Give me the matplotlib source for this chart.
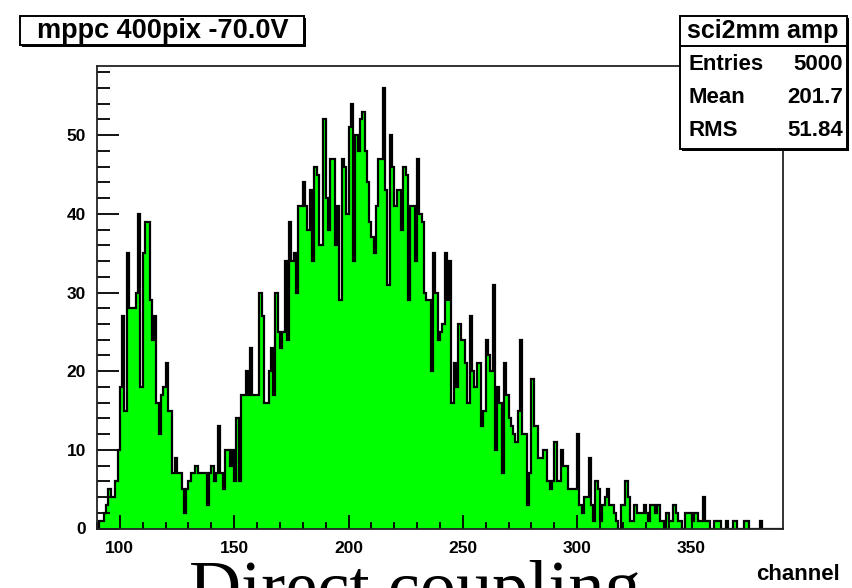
import numpy as np
import matplotlib
matplotlib.use("Agg")
import matplotlib.pyplot as plt
from matplotlib.patches import Rectangle

# amplitude spectrum, one channel per bin, channels 90..389
first_channel = 90
counts = [
    0, 1, 1, 2, 3, 5, 4, 4, 6, 10,            # 90-99
    18, 27, 15, 35, 28, 28, 28, 30, 40, 18,   # 100-109
    35, 39, 39, 29, 24, 27, 16, 12, 17, 18,   # 110-119
    21, 15, 15, 7, 9, 7, 7, 5, 2, 5,          # 120-129
    6, 7, 7, 8, 7, 7, 7, 7, 3, 7,             # 130-139
    8, 6, 7, 13, 7, 5, 10, 10, 8, 10,         # 140-149
    6, 14, 6, 17, 17, 20, 17, 23, 17, 17,     # 150-159
    17, 30, 27, 16, 16, 20, 23, 17, 30, 25,   # 160-169
    23, 25, 34, 24, 39, 34, 35, 30, 41, 41,   # 170-179
    44, 41, 38, 43, 34, 46, 45, 36, 36, 52,   # 180-189
    42, 38, 47, 47, 36, 41, 29, 47, 46, 40,   # 190-199
    51, 54, 34, 50, 48, 52, 53, 48, 44, 39,   # 200-209
    37, 35, 41, 47, 47, 56, 43, 31, 50, 46,   # 210-219
    41, 43, 43, 38, 46, 45, 29, 41, 41, 34,   # 220-229
    47, 40, 39, 30, 29, 29, 20, 35, 30, 24,   # 230-239
    25, 26, 35, 29, 34, 16, 21, 18, 26, 24,   # 240-249
    24, 21, 16, 27, 20, 18, 21, 21, 13, 15,   # 250-259
    24, 22, 20, 31, 10, 18, 16, 7, 21, 17,    # 260-269
    14, 13, 12, 11, 15, 24, 12, 12, 3, 7,     # 270-279
    19, 13, 13, 9, 9, 10, 10, 6, 5, 6,        # 280-289
    11, 6, 6, 10, 8, 8, 5, 5, 5, 5,           # 290-299
    12, 3, 2, 4, 4, 9, 3, 1, 6, 5,            # 300-309
    1, 3, 4, 5, 3, 3, 2, 1, 0, 3,             # 310-319
    3, 6, 4, 1, 1, 3, 2, 2, 2, 3,             # 320-329
    2, 1, 3, 3, 2, 3, 1, 1, 0, 2,             # 330-339
    1, 1, 3, 2, 1, 1, 0, 2, 2, 2,             # 340-349
    1, 2, 2, 1, 1, 4, 1, 1, 0, 0,             # 350-359
    1, 1, 1, 0, 0, 1, 0, 0, 1, 1,             # 360-369
    0, 0, 0, 1, 1, 0, 0, 0, 0, 0,             # 370-379
    1, 0, 0, 0, 0, 0, 0, 0, 0, 0,             # 380-389
]
counts = np.array(counts, dtype=float)
edges = np.arange(first_channel, first_channel + len(counts) + 1)

hist_title = "mppc 400pix -70.0V"
stats_name = "sci2mm amp"
stats_rows = [("Entries", "5000"), ("Mean", "201.7"), ("RMS", "51.84")]
x_label = "channel"
caption = "Direct coupling"

W, H = 852, 588
fig = plt.figure(figsize=(W / 100, H / 100), dpi=100)
fig.patch.set_facecolor("white")

bold = dict(family=["Liberation Sans", "DejaVu Sans"], weight="bold")

# frame in pixels: left 97, right 783, top 66, bottom 528.5
ax = fig.add_axes([97 / W, 1 - 528.5 / H, (783 - 97) / W, (528.5 - 66) / H])
ax.stairs(counts, edges, fill=True, color="#00ff00", lw=0)
ax.stairs(counts, edges, baseline=0, color="black", lw=1.6)
ax.set_xlim(edges[0], edges[-1])
ax.set_ylim(0, counts.max() * 1.05)

ax.set_xticks(np.arange(100, 351, 50))
ax.set_xticks(np.arange(90, 390, 10), minor=True)
ax.set_yticks(np.arange(0, 51, 10))
ax.set_yticks(np.arange(0, 59, 2), minor=True)
ax.tick_params(axis="both", which="both", direction="in", top=False, right=False, width=1.3)
ax.tick_params(axis="x", which="major", length=10, pad=9)
ax.tick_params(axis="x", which="minor", length=5)
ax.tick_params(axis="y", which="major", length=16, pad=8)
ax.tick_params(axis="y", which="minor", length=9)
for lab in ax.get_xticklabels() + ax.get_yticklabels():
    lab.set_fontfamily(bold["family"])
    lab.set_fontweight("bold")
    lab.set_fontsize(12.5)
for sp in ax.spines.values():
    sp.set_linewidth(1.3)
    sp.set_color("#222222")


def px_box(x0, y0, x1, y1, shadow=3):
    # box given in pixel coordinates from the top-left corner
    fx, fy = x0 / W, 1 - y1 / H
    fw, fh = (x1 - x0) / W, (y1 - y0) / H
    fig.patches.append(Rectangle((fx + shadow / W, fy - shadow / H), fw, fh,
                                 transform=fig.transFigure, facecolor="black",
                                 edgecolor="none", zorder=5))
    fig.patches.append(Rectangle((fx, fy), fw, fh, transform=fig.transFigure,
                                 facecolor="white", edgecolor="black", lw=1.4, zorder=6))


def px_text(x, y, s, **kw):
    fig.text(x / W, 1 - y / H, s, zorder=7, **kw)


# histogram title
px_box(20, 16, 304, 45, shadow=2)
px_text(163, 31, hist_title, ha="center", va="center", fontsize=19.5, **bold)

# statistics box
px_box(680, 16, 847, 149, shadow=2)
fig.lines.append(plt.Line2D([680 / W, 847 / W], [1 - 46 / H, 1 - 46 / H],
                            transform=fig.transFigure, color="black", lw=1.4, zorder=7))
px_text(763, 31, stats_name, ha="center", va="center", fontsize=18, **bold)
for i, (name, val) in enumerate(stats_rows):
    yy = 64 + i * 33.5
    px_text(688, yy, name, ha="left", va="center", fontsize=16, **bold)
    px_text(843, yy, val, ha="right", va="center", fontsize=16, **bold)

px_text(840, 575, x_label, ha="right", va="center", fontsize=16, **bold)

# caption running off the bottom edge
px_text(415, 610, caption, ha="center", va="baseline", fontsize=52,
        family=["Liberation Serif", "DejaVu Serif"])

fig.savefig("out.png", dpi=100)
